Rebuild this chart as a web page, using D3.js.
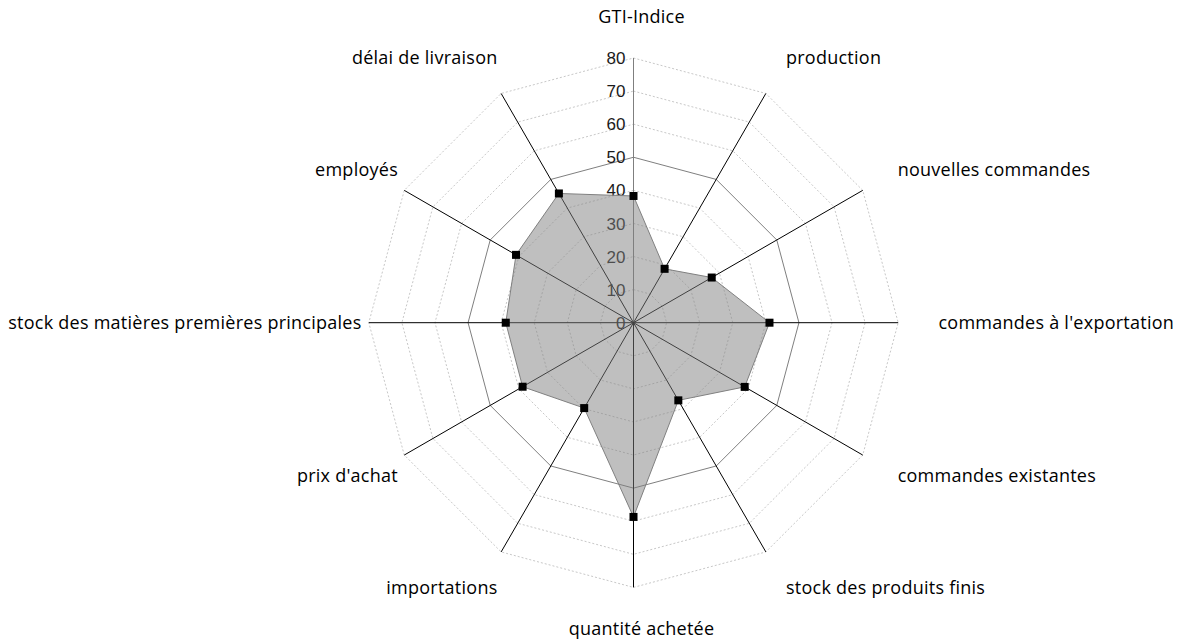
<!doctype html>
<html>
<head>
    <meta charset="utf-8">
    <title>GTI radar</title>
    <script src="https://d3js.org/d3.v7.min.js"></script>
    <style>
        body { margin: 0; background: #fff; }
        .cat { font-family: "Open Sans", "Noto Sans", sans-serif; font-size: 18px; letter-spacing: 0.25px; fill: #000; }
        .tick { font-family: "Liberation Sans", Arial, sans-serif; font-size: 17px; fill: #1a1a1a; }
    </style>
</head>
<body>
<script>
const categories = ["GTI-Indice", "production", "nouvelles commandes", "commandes à l'exportation",
    "commandes existantes", "stock des produits finis", "quantité achetée", "importations",
    "prix d'achat", "stock des matières premières principales", "employés", "délai de livraison"];
const values = [38.3, 18.8, 27.3, 41.1, 38.8, 27.1, 58.7, 29.8, 38.7, 38.6, 41.0, 45.1];
const tickValues = [0, 10, 20, 30, 40, 50, 60, 70, 80];

const w = 1181, h = 641;
const cx = 633.5, cy = 322.7;

const svg = d3.select("body").append("svg")
    .attr("width", w)
    .attr("height", h);

const r = d3.scaleLinear().domain([0, 80]).range([0, 264.7]);
// one spoke per category, clockwise from the top
const step = 2 * Math.PI / categories.length;
const ang = (i) => i * step;

const g = svg.append("g").attr("transform", "translate(" + cx + "," + cy + ")");

// grid rings
const ringLine = d3.lineRadial().angle((d, i) => ang(i)).curve(d3.curveLinearClosed);
g.selectAll("path.ring")
    .data(tickValues.filter(t => t > 0))
    .enter()
    .append("path")
    .attr("class", "ring")
    .attr("d", t => ringLine.radius(r(t))(categories))
    .attr("fill", "none")
    .attr("stroke", t => t === 50 ? "#7f7f7f" : "#c8c8c8")
    .attr("stroke-width", 1)
    .attr("stroke-dasharray", t => t === 50 ? null : "2,2");

// spokes
g.selectAll("line.spoke")
    .data(categories)
    .enter()
    .append("line")
    .attr("class", "spoke")
    .attr("x1", 0).attr("y1", 0)
    .attr("x2", (d, i) => r(80) * Math.sin(ang(i)))
    .attr("y2", (d, i) => -r(80) * Math.cos(ang(i)))
    .attr("stroke", (d, i) => i === 0 ? "#7f7f7f" : "#000")
    .attr("stroke-width", 1);

// value axis labels
g.selectAll("text.tick")
    .data(tickValues)
    .enter()
    .append("text")
    .attr("class", "tick")
    .attr("x", -8)
    .attr("y", t => -r(t))
    .attr("dy", "0.36em")
    .attr("text-anchor", "end")
    .text(t => t);

// data area
const area = d3.lineRadial()
    .angle((d, i) => ang(i))
    .radius(d => r(d))
    .curve(d3.curveLinearClosed);
g.append("path")
    .attr("d", area(values))
    .attr("fill", "#808080")
    .attr("fill-opacity", 0.5)
    .attr("stroke", "#808080")
    .attr("stroke-width", 1);

// markers
g.selectAll("rect.mk")
    .data(values)
    .enter()
    .append("rect")
    .attr("class", "mk")
    .attr("x", (d, i) => r(d) * Math.sin(ang(i)) - 4)
    .attr("y", (d, i) => -r(d) * Math.cos(ang(i)) - 4)
    .attr("width", 8)
    .attr("height", 8)
    .attr("fill", "#000");

// category labels
g.selectAll("text.cat")
    .data(categories)
    .enter()
    .append("text")
    .attr("class", "cat")
    .attr("text-anchor", (d, i) => {
        const s = Math.sin(ang(i));
        return Math.abs(s) < 0.01 ? "middle" : (s > 0 ? "start" : "end");
    })
    .attr("x", (d, i) => {
        const s = Math.sin(ang(i));
        if (Math.abs(s) < 0.01) return 8;
        return (s > 0 ? 305 : 272) * s;
    })
    .attr("y", (d, i) => -306 * Math.cos(ang(i)))
    .attr("dy", "0.35em")
    .text(d => d);
</script>
</body>
</html>
